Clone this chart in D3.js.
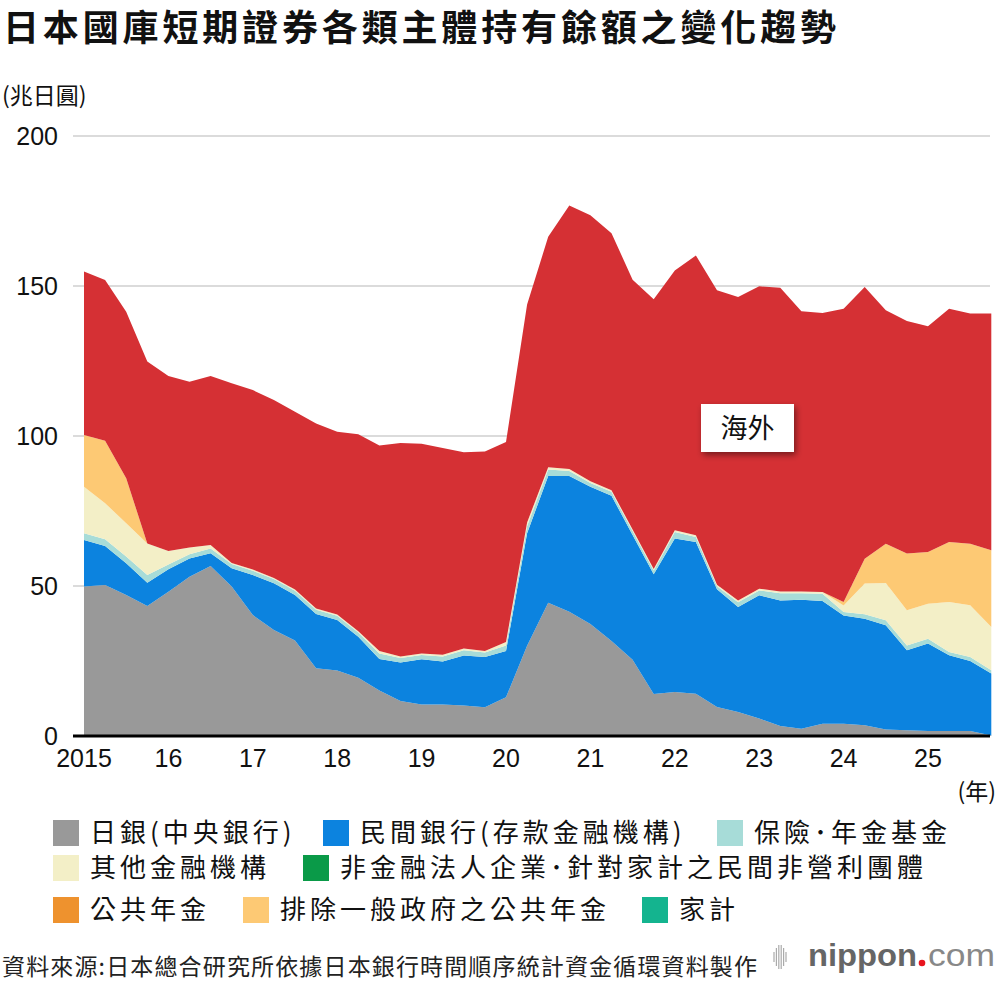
<!DOCTYPE html>
<html>
<head>
<meta charset="utf-8">
<script src="https://cdn.jsdelivr.net/npm/d3@7"></script>
<style>
body{margin:0;background:#fff;}
svg{display:block;font-family:"Liberation Sans","Noto Sans CJK TC",sans-serif;}
.cjk{font-family:"Noto Sans CJK TC","Noto Sans CJK JP",sans-serif;}
</style>
</head>
<body>
<svg id="chart" width="1000" height="986"></svg>
<script>
// quarters 2015Q1 .. 2025Q4
var years = [2015,2016,2017,2018,2019,2020,2021,2022,2023,2024,2025];
var tickLabels = ["2015","16","17","18","19","20","21","22","23","24","25"];
var yTicks = [0,50,100,150,200];

// 兆日圓, one value per quarter
var boj = [49.8,50.3,47.0,43.3,48.1,53.1,56.7,49.8,40.3,35.3,31.8,22.6,21.8,19.4,15.2,11.7,10.5,10.5,10.2,9.6,12.9,30.1,44.4,41.4,37.3,31.7,25.4,14.0,14.7,14.1,9.7,8.0,5.8,3.3,2.4,4.1,4.1,3.6,2.2,1.9,1.7,1.7,1.7,0.2];
var banks = [15.5,13.0,10.6,7.8,7.5,6.1,4.2,6.1,13.4,15.6,15.2,18.1,16.9,13.7,10.5,12.8,15.1,14.3,16.6,16.7,15.4,37.5,42.3,45.3,45.8,48.4,41.6,39.9,51.1,50.6,39.2,35.0,41.1,41.9,43.0,40.9,36.1,35.5,34.7,26.7,29.1,25.2,23.3,20.6];
var insurance = [2.3,2.3,2.2,2.6,1.6,1.4,1.6,1.4,1.4,1.4,1.4,1.4,1.4,1.4,1.8,1.5,1.4,1.7,1.8,1.5,1.9,2.4,2.1,1.6,1.2,1.3,1.3,1.3,2.2,1.6,1.0,1.6,1.6,2.4,2.2,2.4,1.1,1.5,1.7,1.6,1.6,1.1,1.3,1.1];
var otherFin = [15.5,12.0,11.1,10.5,4.5,2.2,1.2,0.4,0.4,0.4,0.4,0.4,0.4,0.4,0.8,0.5,0.5,0.6,0.6,0.5,1.1,1.2,0.8,0.7,0.6,0.5,0.5,0.5,0.6,0.6,0.5,0.6,0.6,0.6,0.6,0.6,2.2,10.2,12.4,11.7,11.7,16.7,17.3,14.4];
var nonFin = [0,0,0,0,0,0,0,0,0,0,0,0,0,0,0,0,0,0,0,0,0,0,0,0,0,0,0,0,0,0,0,0,0,0,0,0,0,0,0,0,0,0,0,0];
var publicPension = [0,0,0,0,0,0,0,0,0,0,0,0,0,0,0,0,0,0,0,0,0,0,0,0,0,0,0,0,0,0,0,0,0,0,0,0,0,0,0,0,0,0,0,0];
var govExPension = [17.2,20.8,15.0,0,0,0,0,0,0,0,0,0,0,0,0,0,0,0,0,0,0,0,0,0,0,0,0,0,0,0,0,0,0,0,0,0,1.2,8.3,13.1,18.9,17.2,20.0,20.5,25.6];
var households = [0,0,0,0,0,0,0,0,0,0,0,0,0,0,0,0,0,0,0,0,0,0,0,0,0,0,0,0,0,0,0,0,0,0,0,0,0,0,0,0,0,0,0,0];
var overseas = [54.5,53.6,55.5,60.6,58.3,55.3,56.3,59.9,59.8,59.3,59.3,61.7,60.9,65.7,68.5,71.2,69.9,68.9,65.4,66.5,66.7,72.6,76.8,87.8,88.7,85.7,83.3,89.9,86.6,93.3,98.2,101.1,100.8,101.2,93.4,93.0,97.7,90.6,77.8,77.5,75.3,77.7,76.7,78.9];

var keys = ["boj","banks","insurance","otherFin","nonFin","publicPension","govExPension","households","overseas"];
var series = [boj,banks,insurance,otherFin,nonFin,publicPension,govExPension,households,overseas];
var colors = ["#999999","#0c83df","#a7dcd8","#f3efc7","#0a9a48","#ee922e","#fdc974","#14b48f","#d53034"];
var legendLabels = ["日銀(中央銀行)","民間銀行(存款金融機構)","保險･年金基金","其他金融機構",
    "非金融法人企業･針對家計之民間非營利團體","公共年金","排除一般政府之公共年金","家計"];

var table = [];
years.forEach(function(yr){
    [0,1,2,3].forEach(function(q){
        var i = table.length;
        var row = {t: yr + q / 4};
        keys.forEach(function(k, j){ row[k] = series[j][i]; });
        table.push(row);
    });
});

var svg = d3.select("#chart");
var x = d3.scaleLinear().domain([2015, 2025]).range([84, 928]);
var y = d3.scaleLinear().domain([0, 200]).range([736, 136]);

svg.append("text")
    .attr("class", "cjk")
    .attr("x", 3)
    .attr("y", 41)
    .attr("font-size", 36)
    .attr("font-weight", 700)
    .attr("textLength", 833)
    .attr("lengthAdjust", "spacing")
    .attr("fill", "#111")
    .text("日本國庫短期證券各類主體持有餘額之變化趨勢");

svg.append("text")
    .attr("class", "cjk")
    .attr("x", 2)
    .attr("y", 104)
    .attr("font-size", 23)
    .attr("fill", "#111")
    .text("(兆日圓)");

// grid
svg.append("g")
    .selectAll("line")
    .data(yTicks.filter(d => d > 0))
    .join("line")
        .attr("x1", 73)
        .attr("x2", 990)
        .attr("y1", d => y(d))
        .attr("y2", d => y(d))
        .attr("stroke", "#cfcfcf")
        .attr("stroke-width", 1.5);

var stack = d3.stack().keys(keys);
var layers = stack(table);
var area = d3.area()
    .x(d => x(d.data.t))
    .y0(d => y(d[0]))
    .y1(d => y(d[1]));

svg.append("g")
    .selectAll("path")
    .data(layers)
    .join("path")
        .attr("d", area)
        .attr("fill", (d, i) => colors[i]);

svg.append("line")
    .attr("x1", 73)
    .attr("x2", 990)
    .attr("y1", y(0))
    .attr("y2", y(0))
    .attr("stroke", "#000")
    .attr("stroke-width", 3);

// y axis labels
svg.append("g")
    .selectAll("text")
    .data(yTicks)
    .join("text")
        .attr("x", 58)
        .attr("y", d => y(d))
        .attr("dy", "0.36em")
        .attr("text-anchor", "end")
        .attr("font-size", 25)
        .attr("fill", "#111")
        .text(d => d);

// x axis labels
svg.append("g")
    .selectAll("text")
    .data(years)
    .join("text")
        .attr("x", d => x(d))
        .attr("y", 767)
        .attr("text-anchor", "middle")
        .attr("font-size", 25)
        .attr("fill", "#111")
        .text((d, i) => tickLabels[i]);

svg.append("text")
    .attr("class", "cjk")
    .attr("x", 996)
    .attr("y", 800)
    .attr("text-anchor", "end")
    .attr("font-size", 23)
    .attr("fill", "#111")
    .text("(年)");

// 海外 label
var defs = svg.append("defs");
defs.append("filter")
    .attr("id", "shadow")
    .attr("x", "-20%").attr("y", "-20%")
    .attr("width", "150%").attr("height", "160%")
    .append("feDropShadow")
        .attr("dx", 2)
        .attr("dy", 3)
        .attr("stdDeviation", 3)
        .attr("flood-color", "#000")
        .attr("flood-opacity", 0.45);

svg.append("rect")
    .attr("x", 701)
    .attr("y", 404)
    .attr("width", 93)
    .attr("height", 48)
    .attr("fill", "#fff")
    .attr("filter", "url(#shadow)");

svg.append("text")
    .attr("class", "cjk")
    .attr("x", 747.5)
    .attr("y", 438)
    .attr("text-anchor", "middle")
    .attr("font-size", 27)
    .attr("fill", "#111")
    .text("海外");

// legend
var legendPos = [[53,0],[323,0],[717,0],[53,1],[303,1],[53,2],[243,2],[642,2]];
var rowY = [833, 868, 910];

var legend = svg.append("g")
    .selectAll("g")
    .data(legendLabels)
    .join("g")
        .attr("transform", (d, i) => "translate(" + legendPos[i][0] + "," + rowY[legendPos[i][1]] + ")");

legend.append("rect")
    .attr("x", 0)
    .attr("y", -13)
    .attr("width", 26)
    .attr("height", 26)
    .attr("fill", (d, i) => colors[i]);

legend.append("text")
    .attr("class", "cjk")
    .attr("x", 37)
    .attr("y", 0)
    .attr("dy", "0.36em")
    .attr("font-size", 26)
    .attr("letter-spacing", 4)
    .attr("fill", "#111")
    .text(d => d);

svg.append("text")
    .attr("class", "cjk")
    .attr("x", 2)
    .attr("y", 975)
    .attr("font-size", 23)
    .attr("textLength", 755)
    .attr("lengthAdjust", "spacing")
    .attr("fill", "#222")
    .text("資料來源:日本總合研究所依據日本銀行時間順序統計資金循環資料製作");

// nippon.com mark
var barH = [10, 18, 24, 24, 18, 10];
svg.append("g")
    .selectAll("line")
    .data(barH)
    .join("line")
        .attr("x1", (d, i) => 774 + i * 2.4)
        .attr("x2", (d, i) => 774 + i * 2.4)
        .attr("y1", d => 957 - d / 2)
        .attr("y2", d => 957 + d / 2)
        .attr("stroke", "#aaa")
        .attr("stroke-width", 1.2);

svg.append("text")
    .attr("x", 808)
    .attr("y", 966)
    .attr("font-size", 31)
    .attr("font-weight", 700)
    .attr("fill", "#666")
    .attr("textLength", 109)
    .attr("lengthAdjust", "spacingAndGlyphs")
    .text("nippon");

svg.append("circle")
    .attr("cx", 922)
    .attr("cy", 963)
    .attr("r", 3.3)
    .attr("fill", "#e8141e");

svg.append("text")
    .attr("x", 928)
    .attr("y", 966)
    .attr("font-size", 31)
    .attr("fill", "#888")
    .attr("textLength", 67)
    .attr("lengthAdjust", "spacingAndGlyphs")
    .text("com");
</script>
</body>
</html>
